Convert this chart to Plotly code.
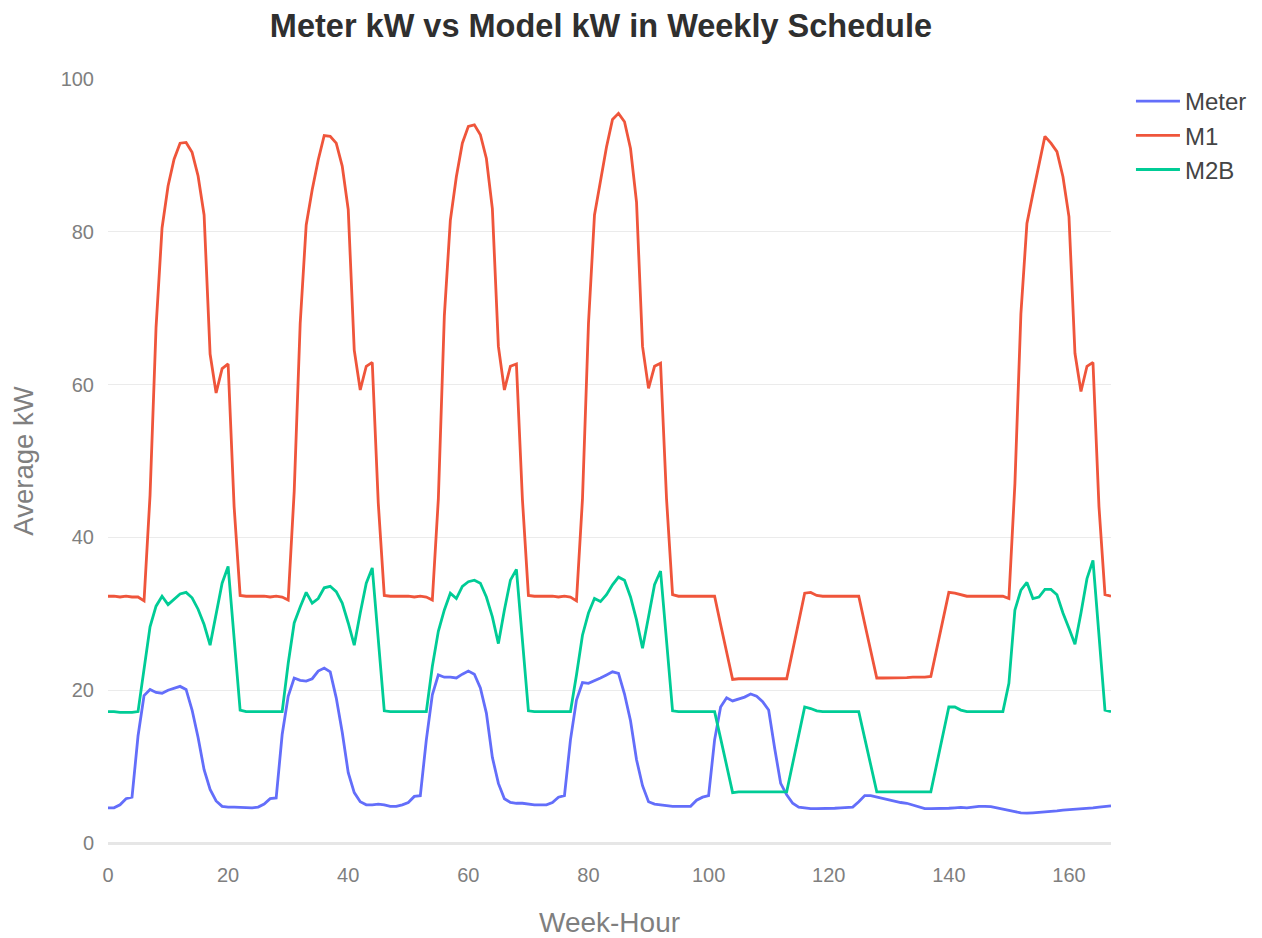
import plotly.graph_objects as go

week_hour = list(range(168))

meter = [
    # day 0
    4.6, 4.6, 5.0, 5.8, 6.0, 14.0, 19.3, 20.1, 19.7, 19.6, 20.0, 20.3,
    20.5, 20.1, 17.4, 13.8, 9.6, 7.0, 5.5, 4.8, 4.7, 4.7, 4.65, 4.6,
    # day 1
    4.6, 4.7, 5.1, 5.8, 5.9, 14.2, 19.2, 21.6, 21.3, 21.2, 21.5, 22.5,
    22.9, 22.4, 19.0, 14.5, 9.2, 6.6, 5.4, 5.0, 5.0, 5.1, 5.0, 4.8,
    # day 2
    4.8, 5.0, 5.3, 6.1, 6.2, 13.5, 19.4, 22.0, 21.7, 21.7, 21.6, 22.1,
    22.5, 22.1, 20.3, 17.0, 11.2, 7.8, 5.8, 5.3, 5.2, 5.2, 5.1, 5.0,
    # day 3
    5.0, 5.0, 5.3, 6.0, 6.2, 13.5, 18.7, 21.0, 20.9, 21.2, 21.6, 22.0,
    22.4, 22.2, 19.5, 16.0, 10.9, 7.5, 5.4, 5.1, 5.0, 4.9, 4.8, 4.8,
    # day 4
    4.8, 4.8, 5.6, 6.0, 6.2, 13.5, 17.8, 19.0, 18.6, 18.8, 19.1, 19.5,
    19.2, 18.5, 17.4, 12.4, 7.8, 6.3, 5.2, 4.7, 4.6, 4.5, 4.5, 4.5,
    # day 5
    4.5, 4.55, 4.6, 4.65, 4.7, 5.4, 6.2, 6.2, 6.0, 5.8, 5.6, 5.4,
    5.3, 5.2, 5.0, 4.8, 4.5, 4.5, 4.5, 4.5, 4.55, 4.6, 4.65, 4.6,
    # day 6
    4.7, 4.8, 4.8, 4.75, 4.6, 4.4, 4.25, 4.1, 3.95, 3.9, 3.95, 4.0,
    4.1, 4.15, 4.2, 4.3, 4.35, 4.4, 4.5, 4.55, 4.6, 4.7, 4.75, 4.85,
]

m1 = [
    # day 0
    32.3, 32.3, 32.2, 32.3, 32.2, 32.2, 31.7, 45.5, 67.5, 80.5, 86.0, 89.5,
    91.6, 91.7, 90.4, 87.3, 82.2, 64.0, 58.9, 62.1, 62.7, 44.0, 32.4, 32.3,
    # day 1
    32.3, 32.3, 32.3, 32.2, 32.3, 32.2, 31.8, 46.0, 68.0, 80.9, 85.5, 89.4,
    92.6, 92.5, 91.6, 88.6, 82.9, 64.5, 59.3, 62.4, 62.9, 44.5, 32.4, 32.3,
    # day 2
    32.3, 32.3, 32.3, 32.2, 32.3, 32.2, 31.8, 45.0, 69.0, 81.5, 87.2, 91.6,
    93.8, 94.0, 92.7, 89.6, 83.0, 65.0, 59.3, 62.4, 62.7, 45.0, 32.4, 32.3,
    # day 3
    32.3, 32.3, 32.3, 32.2, 32.3, 32.2, 31.7, 45.0, 68.0, 82.2, 86.8, 91.1,
    94.7, 95.5, 94.4, 90.9, 83.9, 65.0, 59.5, 62.4, 62.8, 45.0, 32.5, 32.3,
    # day 4
    32.3, 32.3, 32.3, 32.3, 32.3, 32.3, 28.6, 25.0, 21.4, 21.5, 21.5, 21.5,
    21.55, 21.55, 21.5, 21.5, 21.5, 21.5, 25.2, 29.0, 32.7, 32.8, 32.4, 32.3,
    # day 5
    32.3, 32.3, 32.3, 32.3, 32.3, 32.3, 28.7, 25.1, 21.6, 21.6, 21.6, 21.6,
    21.65, 21.65, 21.7, 21.7, 21.7, 21.8, 25.5, 29.2, 32.8, 32.7, 32.5, 32.3,
    # day 6
    32.3, 32.3, 32.3, 32.3, 32.3, 32.3, 32.0, 47.0, 69.3, 81.1, 85.0, 89.0,
    92.5, 91.6, 90.5, 87.2, 82.0, 64.1, 59.1, 62.4, 62.9, 44.0, 32.5, 32.3,
]

m2b = [
    # day 0
    17.2, 17.2, 17.1, 17.1, 17.1, 17.2, 23.0, 28.3, 31.0, 32.3, 31.2, 31.9,
    32.6, 32.8, 32.1, 30.6, 28.6, 25.9, 30.0, 34.0, 36.2, 26.8, 17.4, 17.2,
    # day 1
    17.2, 17.2, 17.2, 17.2, 17.2, 17.2, 23.5, 28.8, 30.9, 32.8, 31.4, 32.0,
    33.4, 33.6, 32.9, 31.4, 28.8, 25.9, 30.1, 34.0, 36.0, 26.6, 17.3, 17.2,
    # day 2
    17.2, 17.2, 17.2, 17.2, 17.2, 17.2, 23.1, 27.7, 30.5, 32.7, 32.0, 33.6,
    34.2, 34.4, 34.0, 32.2, 29.6, 26.1, 30.5, 34.4, 35.8, 26.5, 17.3, 17.2,
    # day 3
    17.2, 17.2, 17.2, 17.2, 17.2, 17.2, 22.0, 27.2, 30.1, 32.0, 31.6, 32.5,
    33.8, 34.8, 34.4, 32.2, 29.2, 25.5, 29.6, 33.8, 35.6, 26.5, 17.3, 17.2,
    # day 4
    17.2, 17.2, 17.2, 17.2, 17.2, 17.2, 13.7, 10.1, 6.6, 6.7, 6.7, 6.7,
    6.7, 6.7, 6.7, 6.7, 6.7, 6.7, 10.4, 14.1, 17.8, 17.6, 17.3, 17.2,
    # day 5
    17.2, 17.2, 17.2, 17.2, 17.2, 17.2, 13.7, 10.2, 6.7, 6.7, 6.7, 6.7,
    6.7, 6.7, 6.7, 6.7, 6.7, 6.7, 10.4, 14.1, 17.8, 17.8, 17.4, 17.2,
    # day 6
    17.2, 17.2, 17.2, 17.2, 17.2, 17.2, 20.9, 30.5, 33.1, 34.1, 32.0, 32.2,
    33.2, 33.2, 32.5, 30.1, 28.1, 26.0, 30.1, 34.6, 37.0, 27.0, 17.4, 17.2,
]

series_names = ["Meter", "M1", "M2B"]
series_colors = ["#636efa", "#EF553B", "#00cc96"]

fig = go.Figure()
for name, vals, col in zip(series_names, [meter, m1, m2b], series_colors):
    fig.add_trace(go.Scatter(x=week_hour, y=vals, mode="lines", name=name,
                             line=dict(color=col, width=2.8)))

fig.update_layout(
    template="plotly_white",
    width=1254, height=930,
    margin=dict(l=100, r=151, t=71, b=95, autoexpand=False),
    font=dict(family="Arial, Liberation Sans, sans-serif", size=20, color="#7f7f7f"),
    title=dict(text="<b>Meter kW vs Model kW in Weekly Schedule</b>",
               x=0.4915, xref="paper", xanchor="center", y=0.9812, yanchor="middle",
               font=dict(size=32.5, color="#2f2f2f")),
    legend=dict(font=dict(size=24, color="#444444"), x=0.8955, xref="container",
                y=1.0, xanchor="left", yanchor="top", itemwidth=44),
    xaxis=dict(title=dict(text="Week-Hour", font=dict(size=28), standoff=28),
               range=[0, 167], showgrid=False, zeroline=False, automargin=False,
               ticks="outside", ticklen=14, tickcolor="rgba(0,0,0,0)",
               tickfont=dict(size=20)),
    yaxis=dict(title=dict(text="Average kW", font=dict(size=27.5), standoff=20),
               range=[0, 100], dtick=20, gridcolor="#ebebeb", gridwidth=1.4,
               automargin=False,
               zeroline=True, zerolinecolor="#e6e6e6", zerolinewidth=2.5,
               ticks="outside", ticklen=9, tickcolor="rgba(0,0,0,0)",
               tickfont=dict(size=20)),
)

fig.write_html("out.html")
